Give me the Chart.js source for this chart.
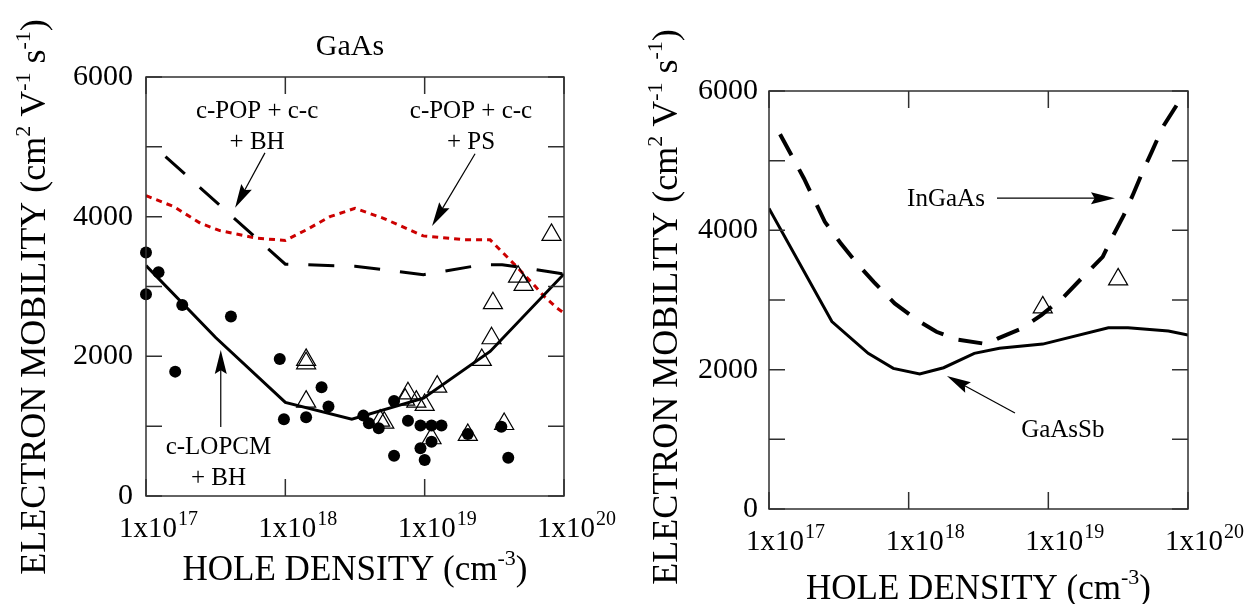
<!DOCTYPE html>
<html>
<head>
<meta charset="utf-8">
<script src="https://cdn.jsdelivr.net/npm/chart.js@4.4.0/dist/chart.umd.min.js"></script>
<style>
    html, body { margin: 0; padding: 0; background: #fff; }
    #wrap { position: relative; width: 1252px; height: 604px; }
    .box { position: absolute; top: 0; height: 604px; }
</style>
</head>
<body>
<div id="wrap">
    <div class="box" style="left:0;width:620px"><canvas id="gaasCanvas"></canvas></div>
    <div class="box" style="left:620px;width:632px"><canvas id="alloyCanvas"></canvas></div>
</div>
<script>
// ---- data (x = hole density cm^-3, y = mobility) ----
const decades = [1e17, 1e18, 1e19, 1e20];
const decadeExponents = ['17', '18', '19', '20'];

// GaAs panel
const lopcmX = [1e17, 3.16e17, 1e18, 3.0e18, 9.8e18, 2.95e19, 1e20];
const lopcmY = [3300, 2270, 1340, 1100, 1400, 2070, 3180];

const popBhX = [1.38e17, 1e18, 3.16e18, 9.8e18, 2.57e19, 3.6e19, 5.13e19, 1e20];
const popBhY = [4860, 3320, 3290, 3170, 3310, 3310, 3270, 3180];

const popPsX = [1e17, 1.58e17, 2.45e17, 3.39e17, 6.17e17, 1e18, 1.41e18, 2.09e18, 3.16e18, 5.01e18, 9.77e18,
    1.91e19, 2.95e19, 3.67e19, 4.57e19, 6.17e19, 7.24e19, 8.91e19, 1e20];
const popPsY = [4300, 4145, 3907, 3800, 3692, 3660, 3810, 4000, 4120, 3980, 3725,
    3670, 3668, 3477, 3285, 3009, 2855, 2690, 2620];

const gaasDotX = [1e17, 1.23e17, 1e17, 1.82e17, 4.07e17, 1.62e17, 9.12e17, 9.77e17, 1.41e18, 1.82e18, 2.04e18,
    3.63e18, 3.98e18, 4.68e18, 6.03e18, 7.59e18, 6.03e18, 9.33e18, 1e19, 9.33e18, 1.12e19, 1.32e19,
    1.12e19, 2.04e19, 3.55e19, 3.98e19];
const gaasDotY = [3486, 3205, 2890, 2736, 2569, 1781, 1963, 1099, 1128, 1557, 1280,
    1151, 1041, 970, 1361, 1079, 577, 683, 516, 1008, 1008, 1008,
    778, 888, 993, 549];

const gaasTriX = [1.41e18, 1.41e18, 1.41e18, 4.79e18, 5.13e18, 7.59e18, 7.24e18, 8.71e18, 1e19, 1.23e19, 1.12e19,
    2.04e19, 2.57e19, 3.02e19, 3.09e19, 4.68e19, 5.13e19, 3.72e19, 8.13e19];
const gaasTriY = [1950, 1900, 1351, 1080, 1050, 1471, 1380, 1351, 1304, 1566, 827,
    874, 1948, 2259, 2761, 3142, 3023, 1031, 3739];

// alloy panel
const gaassbX = [1e17, 2.82e17, 5.13e17, 7.76e17, 1.2e18, 1.78e18, 2.95e18, 4.47e18, 9.12e18, 2.69e19, 3.72e19, 7.24e19, 1e20];
const gaassbY = [4314, 2690, 2234, 2019, 1937, 2028, 2234, 2306, 2367, 2601, 2601, 2554, 2496];

const ingaasX = [1.2e17, 1.78e17, 2.51e17, 3.24e17, 4.27e17, 5.62e17, 7.94e17, 1.15e18, 1.58e18, 2.19e18, 3.63e18,
    4.37e18, 6.46e18, 8.91e18, 1.29e19, 1.82e19, 2.45e19, 2.88e19, 3.47e19, 4.07e19, 4.79e19, 5.5e19, 6.61e19, 8.32e19];
const ingaasY = [5380, 4745, 4122, 3821, 3525, 3261, 2951, 2712, 2544, 2435, 2367,
    2449, 2593, 2783, 3046, 3357, 3620, 3907, 4218, 4529, 4864, 5126, 5485, 5800];

const alloyTriX = [9.12e18, 3.16e19];
const alloyTriY = [2894, 3296];

const serif = "'Liberation Serif', 'Times New Roman', serif";
Chart.defaults.font.family = serif;
Chart.defaults.color = '#000';

function points(xs, ys) {
    return xs.map((x, i) => ({ x: x, y: ys[i] }));
}

// draws text with superscript pieces; parts = [[text, isSup], ...]
function drawRich(ctx, parts, x, y, size, align) {
    const supSize = Math.round(size * 0.62);
    let total = 0;
    parts.forEach(p => {
        ctx.font = (p[1] ? supSize : size) + 'px ' + serif;
        total += ctx.measureText(p[0]).width;
    });
    let cx = align === 'center' ? x - total / 2 : x;
    ctx.textAlign = 'left';
    ctx.textBaseline = 'alphabetic';
    parts.forEach(p => {
        ctx.font = (p[1] ? supSize : size) + 'px ' + serif;
        ctx.fillText(p[0], cx, p[1] ? y - size * 0.42 : y);
        cx += ctx.measureText(p[0]).width;
    });
}

function drawArrow(ctx, x1, y1, x2, y2) {
    const ang = Math.atan2(y2 - y1, x2 - x1);
    const len = 24, half = 6;
    ctx.beginPath();
    ctx.moveTo(x1, y1);
    ctx.lineTo(x2 - Math.cos(ang) * len * 0.8, y2 - Math.sin(ang) * len * 0.8);
    ctx.lineWidth = 1.2;
    ctx.stroke();
    ctx.beginPath();
    ctx.moveTo(x2, y2);
    ctx.lineTo(x2 - Math.cos(ang) * len - Math.sin(ang) * half, y2 - Math.sin(ang) * len + Math.cos(ang) * half);
    ctx.lineTo(x2 - Math.cos(ang) * len * 0.85, y2 - Math.sin(ang) * len * 0.85);
    ctx.lineTo(x2 - Math.cos(ang) * len + Math.sin(ang) * half, y2 - Math.sin(ang) * len - Math.cos(ang) * half);
    ctx.closePath();
    ctx.fill();
}

const figurePlugin = {
    id: 'figure',
    afterDatasetsDraw(chart, args, opts) {
        const ctx = chart.ctx;
        const area = chart.chartArea;
        const xs = chart.scales.x, ys = chart.scales.y;
        ctx.save();
        ctx.fillStyle = '#000';

        // frame and inward ticks
        ctx.strokeStyle = '#303030';
        ctx.lineWidth = 1.5;
        ctx.strokeRect(area.left, area.top, area.right - area.left, area.bottom - area.top);
        ctx.beginPath();
        for (let v = 0; v <= 6000; v += 1000) {
            const py = ys.getPixelForValue(v);
            ctx.moveTo(area.left, py); ctx.lineTo(area.left + 16, py);
            ctx.moveTo(area.right, py); ctx.lineTo(area.right - 16, py);
        }
        decades.forEach(d => {
            const px = xs.getPixelForValue(d);
            ctx.moveTo(px, area.top); ctx.lineTo(px, area.top + 17);
            ctx.moveTo(px, area.bottom); ctx.lineTo(px, area.bottom - 17);
        });
        ctx.stroke();

        // x tick labels 1x10^n
        decades.forEach((d, i) => {
            const px = xs.getPixelForValue(d) + opts.labelShift;
            ctx.font = '29px ' + serif;
            const w = ctx.measureText('1x10').width;
            ctx.textAlign = 'left';
            ctx.textBaseline = 'alphabetic';
            ctx.fillText('1x10', px - w / 2, area.bottom + 41);
            ctx.font = '20px ' + serif;
            ctx.fillText(decadeExponents[i], px + w / 2 + 1, area.bottom + 29);
        });

        // axis titles
        const midX = (area.left + area.right) / 2;
        drawRich(ctx, [['HOLE DENSITY (cm', false], ['-3', true], [')', false]], midX, area.bottom + opts.xTitleOffset, 35, 'center');
        ctx.save();
        ctx.translate(opts.yTitleX, opts.yTitleY);
        ctx.rotate(-Math.PI / 2);
        drawRich(ctx, [['ELECTRON MOBILITY (cm', false], ['2', true], [' V', false], ['-1', true],
            [' s', false], ['-1', true], [')', false]], 0, 0, 36, 'center');
        ctx.restore();

        if (opts.title) {
            ctx.font = '30px ' + serif;
            ctx.textAlign = 'center';
            ctx.fillText(opts.title, midX - 5, area.top - 22);
        }

        // annotations
        ctx.strokeStyle = '#000';
        opts.notes.forEach(n => {
            ctx.font = '25px ' + serif;
            ctx.textAlign = 'center';
            ctx.textBaseline = 'alphabetic';
            const px = xs.getPixelForValue(n.x), py = ys.getPixelForValue(n.y);
            n.lines.forEach((t, i) => ctx.fillText(t, px, py + i * 31));
        });
        opts.arrows.forEach(a => {
            drawArrow(ctx, xs.getPixelForValue(a.from[0]), ys.getPixelForValue(a.from[1]),
                xs.getPixelForValue(a.to[0]), ys.getPixelForValue(a.to[1]));
        });
        ctx.restore();
    }
};

function lineSet(xs, ys, color, dash, width) {
    return {
        data: points(xs, ys), showLine: true, borderColor: color, borderWidth: width,
        borderDash: dash, pointRadius: 0, tension: 0, fill: false
    };
}

function dotSet(xs, ys) {
    return {
        data: points(xs, ys), pointStyle: 'circle', pointRadius: 6, pointBackgroundColor: '#000',
        pointBorderColor: '#000', pointBorderWidth: 0, clip: false
    };
}

function triSet(xs, ys) {
    return {
        data: points(xs, ys), pointStyle: 'triangle', pointRadius: 11, pointBackgroundColor: 'rgba(0,0,0,0)',
        pointBorderColor: '#000', pointBorderWidth: 1.2, clip: false
    };
}

function makeOptions(yWidth, xHeight, padTop, padRight, labelPad, figure) {
    return {
        responsive: true,
        maintainAspectRatio: false,
        animation: false,
        layout: { padding: { top: padTop, right: padRight, left: 0, bottom: 0 } },
        plugins: { legend: { display: false }, tooltip: { enabled: false }, figure: figure },
        scales: {
            x: {
                type: 'logarithmic', min: 1e17, max: 1e20,
                grid: { display: false }, border: { display: false },
                ticks: { display: false },
                afterBuildTicks: (scale) => { scale.ticks = decades.map(v => ({ value: v })); },
                afterFit: (scale) => { scale.height = xHeight; }
            },
            y: {
                min: 0, max: 6000,
                grid: { display: false }, border: { display: false },
                ticks: {
                    stepSize: 1000, padding: labelPad, color: '#000',
                    font: { size: 30, family: serif },
                    callback: (v) => (v % 2000 === 0 ? String(v) : '')
                },
                afterFit: (scale) => { scale.width = yWidth; }
            }
        }
    };
}

const gaasChart = new Chart(document.getElementById('gaasCanvas'), {
    type: 'scatter',
    data: {
        datasets: [
            triSet(gaasTriX, gaasTriY),
            dotSet(gaasDotX, gaasDotY),
            lineSet(lopcmX, lopcmY, '#000', [], 3),
            lineSet(popBhX, popBhY, '#000', [26, 20], 3),
            lineSet(popPsX, popPsY, '#cc0000', [6, 5], 3)
        ]
    },
    options: makeOptions(146, 108, 77, 56, 5, {
        title: 'GaAs', labelShift: 2, xTitleOffset: 84, yTitleX: 45, yTitleY: 297,
        notes: [
            { x: 6.27e17, y: 5415, lines: ['c-POP + c-c', '+ BH'] },
            { x: 2.15e19, y: 5415, lines: ['c-POP + c-c', '+ PS'] },
            { x: 3.31e17, y: 602, lines: ['c-LOPCM', '+ BH'] }
        ],
        arrows: [
            { from: [7.14e17, 4914], to: [4.36e17, 4126] },
            { from: [2.30e19, 4900], to: [1.13e19, 3868] },
            { from: [3.44e17, 989], to: [3.44e17, 2092] }
        ]
    }),
    plugins: [figurePlugin]
});

const alloyChart = new Chart(document.getElementById('alloyCanvas'), {
    type: 'scatter',
    data: {
        datasets: [
            triSet(alloyTriX, alloyTriY),
            lineSet(gaassbX, gaassbY, '#000', [], 3),
            lineSet(ingaasX, ingaasY, '#000', [24, 16], 4)
        ]
    },
    options: makeOptions(149, 95, 91, 64, 3, {
        title: '', labelShift: 6, xTitleOffset: 90, yTitleX: 57, yTitleY: 307,
        notes: [
            { x: 1.85e18, y: 4347, lines: ['InGaAs'] },
            { x: 1.27e19, y: 1033, lines: ['GaAsSb'] }
        ],
        arrows: [
            { from: [4.29e18, 4462], to: [3.0e19, 4462] },
            { from: [5.77e18, 1377], to: [1.88e18, 1908] }
        ]
    }),
    plugins: [figurePlugin]
});
</script>
</body>
</html>
